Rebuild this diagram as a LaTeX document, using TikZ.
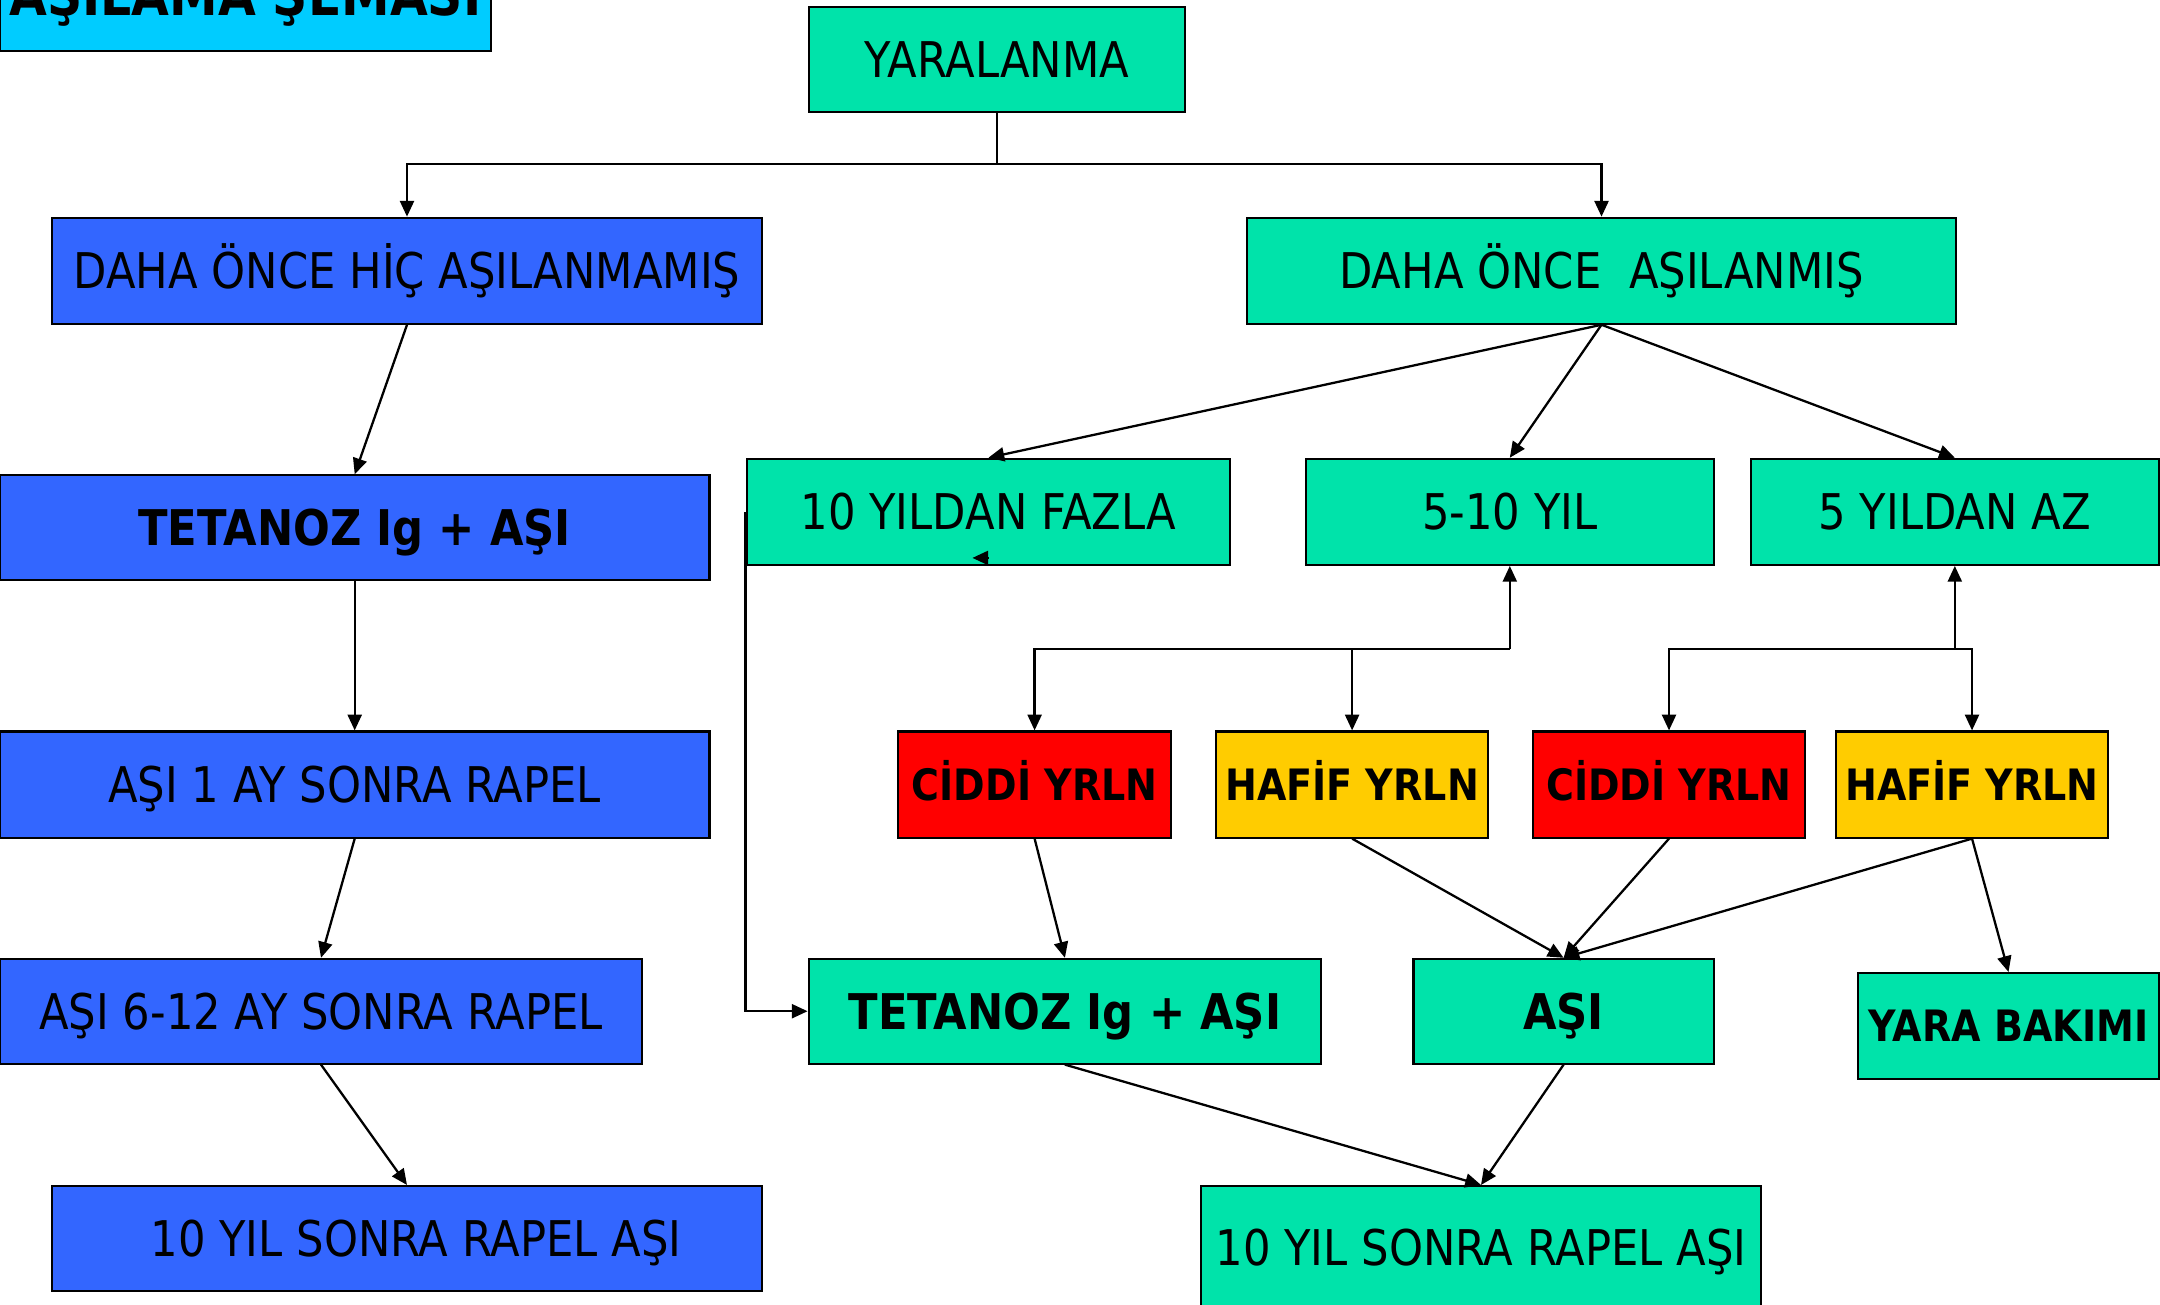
\documentclass[tikz,border=0pt]{standalone}
\usepackage{fontspec}
\setmainfont{DejaVu Sans}[FakeStretch=0.88]
\usetikzlibrary{arrows.meta}

\definecolor{yesil}{RGB}{0,227,170}
\definecolor{mavi}{RGB}{51,102,255}
\definecolor{sari}{RGB}{255,204,0}
\definecolor{kirmizi}{RGB}{255,0,0}
\definecolor{camgobegi}{RGB}{0,204,255}

\begin{document}
\begin{tikzpicture}
    \tikzset{Kutu/.style={draw=black, line width=0.6pt, inner sep=0pt,
        text height=10.2pt, text depth=0pt, font=\fontsize{14}{16}\selectfont}}
    \tikzset{boyut/.style 2 args={minimum width=#1cm, minimum height=#2cm}}
    \tikzset{Yesil/.style={Kutu, fill=yesil}, Mavi/.style={Kutu, fill=mavi}}
    \tikzset{Kalin/.style={font=\fontsize{14}{16}\selectfont\bfseries},
        KalinKucuk/.style={font=\fontsize{12.3}{14}\selectfont\bfseries, text height=9pt}}
    \tikzset{Ok/.style={-{Triangle[length=4.5pt,width=4pt]}, line width=0.65pt}}
    \useasboundingbox (0,0) rectangle (21.6,-13.04);
    \node[Kutu, fill=camgobegi, boyut={4.907}{1.114}, text height=11.5pt,
        font=\fontsize{15.8}{18}\selectfont\bfseries] (baslik) at (2.454,0.05) {AŞILAMA ŞEMASI};
    \node[Yesil, boyut={3.761}{1.047}] (yaralanma) at (9.967,-0.592) {YARALANMA};
    \node[Mavi, boyut={7.095}{1.06}] (hic) at (4.070,-2.707) {DAHA ÖNCE HİÇ AŞILANMAMIŞ};
    \node[Yesil, boyut={7.095}{1.06}] (asilanmis) at (16.015,-2.707) {DAHA ÖNCE\ \ AŞILANMIŞ};
    \node[Mavi, Kalin, boyut={7.095}{1.047}] (tetL) at (3.547,-5.276) {TETANOZ Ig + AŞI};
    \node[Mavi, boyut={7.095}{1.061}] (rapel1) at (3.547,-7.845) {AŞI 1 AY SONRA RAPEL};
    \node[Mavi, boyut={6.42}{1.047}] (rapel612) at (3.21,-10.112) {AŞI 6-12 AY SONRA RAPEL};
    \node[Mavi, boyut={7.095}{1.048}] (onyilL) at (4.070,-12.384) {\hspace{0.18cm}10 YIL SONRA RAPEL AŞI};
    \node[Yesil, boyut={4.835}{1.061}] (fazla) at (9.884,-5.118) {10 YILDAN FAZLA};
    \node[Yesil, boyut={4.077}{1.061}] (y510) at (15.098,-5.118) {5-10 YIL};
    \node[Yesil, boyut={4.077}{1.061}] (az5) at (19.548,-5.118) {5 YILDAN AZ};
    \node[Kutu, KalinKucuk, fill=kirmizi, boyut={2.728}{1.061}] (ciddi1) at (10.346,-7.845) {CİDDİ YRLN};
    \node[Kutu, KalinKucuk, fill=sari, boyut={2.714}{1.061}] (hafif1) at (13.521,-7.845) {HAFİF YRLN};
    \node[Kutu, KalinKucuk, fill=kirmizi, boyut={2.714}{1.061}] (ciddi2) at (16.690,-7.845) {CİDDİ YRLN};
    \node[Kutu, KalinKucuk, fill=sari, boyut={2.714}{1.061}] (hafif2) at (19.720,-7.845) {HAFİF YRLN};
    \node[Yesil, Kalin, boyut={5.125}{1.047}] (tetR) at (10.649,-10.112) {TETANOZ Ig + AŞI};
    \node[Yesil, Kalin, boyut={3.003}{1.047}] (asi) at (15.636,-10.112) {AŞI};
    \node[Yesil, KalinKucuk, boyut={3.01}{1.06}] (bakim) at (20.085,-10.26) {YARA BAKIMI};
    \node[Yesil, boyut={5.6}{1.24}] (onyilR) at (14.81,-12.48) {10 YIL SONRA RAPEL AŞI};

    \coordinate (dal) at (9.967,-1.639);
    \draw[Ok] (yaralanma.south) -- (dal) -| (hic.north);
    \draw[Ok] (dal) -| (asilanmis.north);
    \draw[Ok] (hic.south) -- (tetL.north);
    \draw[Ok] (tetL.south) -- (rapel1.north);
    \draw[Ok] (rapel1.south) -- (rapel612.north);
    \draw[Ok] (rapel612.south) -- (onyilL.north);
    \draw[Ok] (asilanmis.south) -- (fazla.north);
    \draw[Ok] (asilanmis.south) -- (y510.north);
    \draw[Ok] (asilanmis.south) -- (az5.north);
    \draw[Ok] (fazla.west) |- (tetR.west);
    \draw[Ok] ([yshift=0.08cm]fazla.south) -- ++(-0.16,0);
    \coordinate (kol1) at (15.098,-6.489);
    \coordinate (kol2) at (19.548,-6.489);
    \draw[Ok] (kol1) -- (y510.south);
    \draw[Ok] (kol1) -| (ciddi1.north);
    \draw[Ok] (hafif1.north |- kol1) -- (hafif1.north);
    \draw[Ok] (kol2) -- (az5.south);
    \draw[Ok] (kol2) -| (ciddi2.north);
    \draw[Ok] (kol2) -| (hafif2.north);
    \draw[Ok] (ciddi1.south) -- (tetR.north);
    \draw[Ok] (hafif1.south) -- (asi.north);
    \draw[Ok] (ciddi2.south) -- (asi.north);
    \draw[Ok] (hafif2.south) -- (asi.north);
    \draw[Ok] (hafif2.south) -- (bakim.north);
    \draw[Ok] (tetR.south) -- (onyilR.north);
    \draw[Ok] (asi.south) -- (onyilR.north);
\end{tikzpicture}
\end{document}
